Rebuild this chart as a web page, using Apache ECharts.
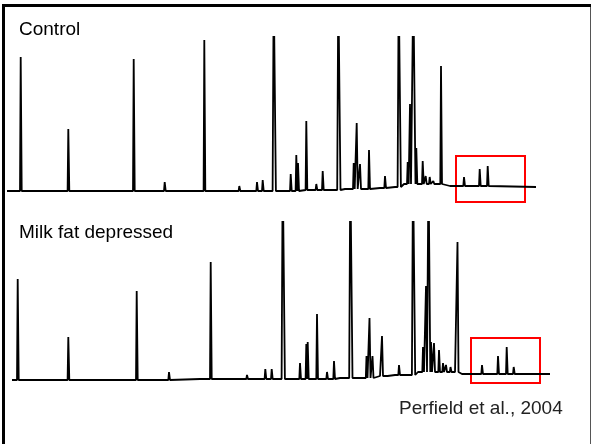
<!DOCTYPE html>
<html>
<head>
	<meta charset="utf-8" />
	<title>Chromatogram - Control vs Milk fat depressed</title>
	<script src="https://cdn.jsdelivr.net/npm/echarts@6/dist/echarts.min.js"></script>
	<style>
		body { margin: 0; background: #fff; }
	</style>
</head>
<body>
	<div id="main" style="width: 592px;height: 444px;"></div>
	<script type="text/javascript">

		// control trace: baseline level points and peaks (position, signal)
		var ctrlBaseX = [7, 200, 300, 345, 380, 395, 404, 437, 450, 536];
		var ctrlBaseY = [14, 14, 15, 16, 17, 18, 21, 21, 19, 18];
		var ctrlPeakX = [20.7, 68.3, 133.7, 164.7, 204.3, 223, 239.3, 257, 262.7, 273.7,
			290.7, 296.3, 298, 306.3, 316.3, 322.7, 338.3, 353.7, 356.7, 360,
			369, 385, 398.7, 407.7, 410, 413.3, 416.3, 422.7, 425.7, 429.7,
			433.3, 441, 464, 479.7, 487.7];
		var ctrlPeakY = [148, 76, 146, 23, 165, 16, 19, 23, 25, 220,
			31, 50, 42, 84, 21, 34, 220, 42, 82, 41,
			55, 29, 220, 43, 101, 220, 57, 44, 29, 28,
			24, 139, 28, 36, 39];

		// milk fat depressed trace
		var mfdBaseX = [12, 200, 340, 380, 395, 418, 455, 462, 550];
		var mfdBaseY = [6, 7, 8, 10, 11, 14, 14, 12, 12];
		var mfdPeakX = [17.7, 68.3, 136.7, 169, 210.7, 229.3, 242.7, 247, 265.3, 271.7,
			282.7, 300, 306.3, 307.7, 317, 327, 334, 350.3, 366.5, 369.5,
			372.5, 382, 388.3, 399, 413, 423, 426, 428.5, 431, 434,
			439, 443, 446, 450.5, 457.5, 482, 498, 506.7, 513.7];
		var mfdPeakY = [107, 49, 95, 14, 124, 9, 9, 11, 17, 17,
			220, 23, 42, 44, 72, 14, 25, 220, 30, 68,
			30, 50, 12, 21, 220, 39, 100, 220, 44, 43,
			36, 23, 21, 19, 144, 21, 30, 39, 19];

		// highlighted regions [x1, y1, x2, y2]
		var ctrlBox = [456, 49, 525, 3];
		var mfdBox = [471, 48, 540, 3];

		var panelLabels = ['Control', 'Milk fat depressed'];
		var sourceLabel = 'Perfield et al., 2004';

		function levelAt(bx, by, x) {
			var v = by[0];
			for (var i = 0; i < bx.length; i++) {
				if (bx[i] <= x) v = by[i];
			}
			return v;
		}

		// each peak as a spike standing on the baseline level
		function buildTrace(bx, by, px, py) {
			var pts = [];
			for (var i = 0; i < bx.length; i++) pts.push([bx[i], by[i]]);
			for (var j = 0; j < px.length; j++) {
				var foot = levelAt(bx, by, px[j]);
				var big = py[j] >= 200;
				var wl = big ? 1.1 : 0.7;
				var wr = big ? 2.2 : 1.0;
				pts.push([px[j] - wl, foot], [px[j], py[j]], [px[j] + wr, foot]);
			}
			pts.sort(function (a, b) { return a[0] - b[0]; });
			return pts;
		}

		function box(b) {
			return {
				silent: true,
				itemStyle: { color: 'rgba(0,0,0,0)', borderColor: '#ff0000', borderWidth: 2 },
				label: { show: false },
				data: [[{ coord: [b[0], b[1]] }, { coord: [b[2], b[3]] }]]
			};
		}

		var myChart = echarts.init(document.getElementById('main'));

		var font = '19px "Liberation Sans", Arial, sans-serif';

		var option = {
			animation: false,
			grid: [
				{ left: 0, right: 0, top: 37, height: 168 },
				{ left: 0, right: 0, top: 222, height: 164 }
			],
			xAxis: [
				{ type: 'value', gridIndex: 0, min: 0, max: 592, show: false },
				{ type: 'value', gridIndex: 1, min: 0, max: 592, show: false }
			],
			yAxis: [
				{ type: 'value', gridIndex: 0, min: 0, max: 168, show: false },
				{ type: 'value', gridIndex: 1, min: 0, max: 164, show: false }
			],
			series: [
				{
					name: panelLabels[0], type: 'line', xAxisIndex: 0, yAxisIndex: 0,
					data: buildTrace(ctrlBaseX, ctrlBaseY, ctrlPeakX, ctrlPeakY),
					symbol: 'none', clip: true,
					lineStyle: { color: '#000', width: 1.8 },
					markArea: box(ctrlBox)
				},
				{
					name: panelLabels[1], type: 'line', xAxisIndex: 1, yAxisIndex: 1,
					data: buildTrace(mfdBaseX, mfdBaseY, mfdPeakX, mfdPeakY),
					symbol: 'none', clip: true,
					lineStyle: { color: '#000', width: 1.8 },
					markArea: box(mfdBox)
				}
			],
			graphic: [
				// frame
				{ type: 'line', shape: { x1: 3.5, y1: 4, x2: 3.5, y2: 444 }, style: { stroke: '#000', lineWidth: 3 } },
				{ type: 'line', shape: { x1: 2, y1: 5.5, x2: 591, y2: 5.5 }, style: { stroke: '#000', lineWidth: 3 } },
				{ type: 'line', shape: { x1: 590.5, y1: 7, x2: 590.5, y2: 444 }, style: { stroke: '#555', lineWidth: 1 } },
				// labels
				{ type: 'text', x: 19, y: 20, style: { text: panelLabels[0], font: font, fill: '#000', verticalAlign: 'top' } },
				{ type: 'text', x: 19, y: 223, style: { text: panelLabels[1], font: font, fill: '#000', verticalAlign: 'top' } },
				{ type: 'text', x: 399, y: 399, style: { text: sourceLabel, font: font, fill: '#222', verticalAlign: 'top' } }
			]
		};

		myChart.setOption(option);
	</script>
</body>
</html>
